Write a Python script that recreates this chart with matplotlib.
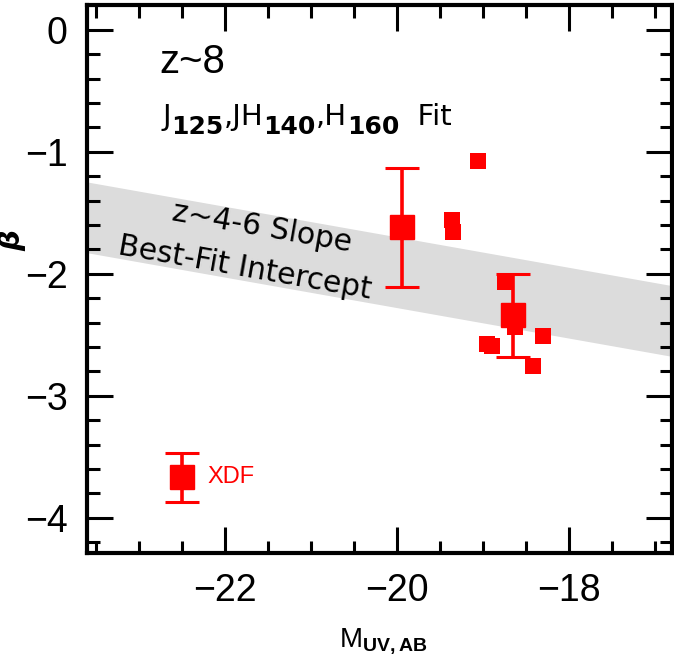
import numpy as np
import matplotlib
matplotlib.use('Agg')
import matplotlib.pyplot as plt
from matplotlib.ticker import MultipleLocator

plt.rcParams['font.family'] = ['Liberation Sans', 'DejaVu Sans']
plt.rcParams['mathtext.fontset'] = 'custom'
plt.rcParams['mathtext.rm'] = 'Liberation Sans'
plt.rcParams['mathtext.bf'] = 'Liberation Sans:bold'

# individual z~8 sources
muv_single = [-19.05, -19.36, -19.34, -18.74, -18.62, -18.30, -18.95, -18.89, -18.42]
beta_single = [-1.08, -1.56, -1.66, -2.07, -2.44, -2.51, -2.58, -2.59, -2.76]

# binned means with errors
muv_bin = [-19.94, -18.65]
beta_bin = [-1.62, -2.34]
beta_bin_err = [0.49, 0.34]

# XDF point
muv_xdf = [-22.5]
beta_xdf = [-3.67]
beta_xdf_err = [0.2]

# z~4-6 slope, best-fit intercept band
band_slope = -0.125
band_pivot = -19.5
band_center = -2.05
band_halfwidth = 0.29

red = '#ff0000'


def rich_text(ax, x, y, parts, family='DejaVu Sans'):
    # draw (text, fontsize, weight, dy in points) pieces one after another
    fig = ax.figure
    r = fig.canvas.get_renderer()
    dx = 0.0
    for s, size, weight, dy in parts:
        t = ax.annotate(s, (x, y), xytext=(dx, dy), textcoords='offset points',
                        fontsize=size, fontweight=weight, family=family,
                        ha='left', va='baseline')
        bb = t.get_window_extent(renderer=r)
        dx += bb.width * 72.0 / fig.dpi


fig = plt.figure(figsize=(6.74, 6.64), dpi=100)
ax = fig.add_axes([0.129, 0.167, 0.868, 0.825])

xlo, xhi = -23.6, -16.8
mm = np.array([xlo, xhi])
mid = band_center + band_slope * (mm - band_pivot)
ax.fill_between(mm, mid - band_halfwidth, mid + band_halfwidth,
                color='#dcdcdc', lw=0, zorder=1)

ax.plot(muv_single, beta_single, 's', color=red, ms=11.5, mew=0, zorder=3)
ax.errorbar(muv_bin, beta_bin, yerr=beta_bin_err, fmt='s', color=red,
            ms=17, elinewidth=2.6, capsize=12.5, capthick=2.2, zorder=4)
ax.errorbar(muv_xdf, beta_xdf, yerr=beta_xdf_err, fmt='s', color=red,
            ms=17, elinewidth=2.6, capsize=12.5, capthick=2.2, zorder=4)

ax.text(-22.2, -3.67, 'XDF', color=red, fontsize=17, ha='left', va='center')
ax.text(-22.76, -0.265, 'z~8', fontsize=29, ha='left', va='center')

ax.set_xlim(xlo, xhi)
ax.set_ylim(-4.29, 0.2)

rich_text(ax, -22.72, -0.78,
          [('J', 21, 'normal', 0), ('125', 18, 'semibold', -6.5),
           (',JH', 21, 'normal', 0), ('140', 18, 'semibold', -6.5),
           (',H', 21, 'normal', 0), ('160', 18, 'semibold', -6.5),
           ('  Fit', 21, 'normal', 0)])

ax.text(-21.56, -1.62, 'z~4-6 Slope', fontsize=21.5, rotation=-10,
        family='DejaVu Sans', ha='center', va='center',
        rotation_mode='anchor', zorder=2)
ax.text(-21.77, -1.95, 'Best-Fit Intercept', fontsize=21.5, rotation=-10,
        family='DejaVu Sans', ha='center', va='center',
        rotation_mode='anchor', zorder=2)

ax.xaxis.set_major_locator(MultipleLocator(2))
ax.xaxis.set_minor_locator(MultipleLocator(0.5))
ax.yaxis.set_major_locator(MultipleLocator(1))
ax.yaxis.set_minor_locator(MultipleLocator(0.2))
ax.tick_params(which='both', direction='in', top=True, right=True,
               width=2.2, labelsize=27, pad=14)
ax.tick_params(which='major', length=19)
ax.tick_params(which='minor', length=9)
for s in ax.spines.values():
    s.set_linewidth(3)

ax.set_xlabel(r'M$_{\mathbf{UV,AB}}$', fontsize=20)
ax.xaxis.set_label_coords(0.506, -0.135)
ax.set_ylabel('β', fontsize=21, fontweight='bold', style='italic',
              family='DejaVu Sans')
ax.yaxis.set_label_coords(-0.103, 0.571)

fig.savefig('out.png', dpi=100)
